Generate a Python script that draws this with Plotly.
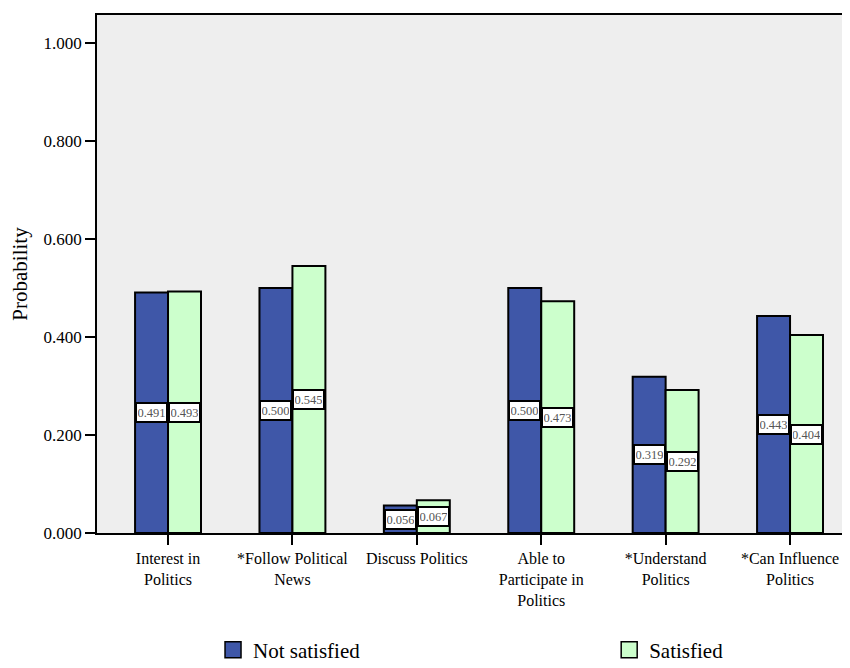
import plotly.graph_objects as go

categories = ["Interest in<br>Politics", "*Follow Political<br>News", "Discuss Politics",
              "Able to<br>Participate in<br>Politics", "*Understand<br>Politics",
              "*Can Influence<br>Politics"]
not_satisfied = [0.491, 0.500, 0.056, 0.500, 0.319, 0.443]
satisfied = [0.493, 0.545, 0.067, 0.473, 0.292, 0.404]
series_names = ["Not satisfied", "Satisfied"]
tick_vals = [0.0, 0.2, 0.4, 0.6, 0.8, 1.0]

BLUE = "#3F57A8"
GREEN = "#CCFFCC"
SERIF = "Liberation Serif"

fig = go.Figure()
for vals, name, color, leg in ((not_satisfied, series_names[0], BLUE, "legend"),
                               (satisfied, series_names[1], GREEN, "legend2")):
    fig.add_trace(go.Bar(x=categories, y=vals, name=name, showlegend=False,
                         marker=dict(color=color, line=dict(color="black", width=2))))
    # legend key (larger square than the default bar key)
    fig.add_trace(go.Scatter(x=[None], y=[None], mode="markers", name=name, legend=leg,
                             marker=dict(symbol="square", size=16, color=color,
                                         line=dict(color="black", width=1.5))))

for vals, shift in ((not_satisfied, -16.5), (satisfied, 16.5)):
    for c, v in zip(categories, vals):
        fig.add_annotation(x=c, y=v / 2, xref="x", yref="y", text=f"{v:.3f}",
                           showarrow=False, xshift=shift,
                           font=dict(family=SERIF, size=12.5, color="#555555"),
                           bgcolor="white", bordercolor="black", borderwidth=2,
                           borderpad=1, width=27, height=15)

legend_common = dict(orientation="h", xref="container", yref="container", xanchor="left",
                     yanchor="middle", y=0.027, bgcolor="rgba(0,0,0,0)",
                     font=dict(family=SERIF, size=21, color="black"))

fig.update_layout(
    width=842, height=660,
    margin=dict(l=89, r=0, t=7, b=135, autoexpand=False),
    paper_bgcolor="white", plot_bgcolor="#EEEEEE",
    barmode="group", bargap=0.47, bargroupgap=0,
    font=dict(family=SERIF, color="black"),
    showlegend=True,
    legend=dict(x=0.2435, **legend_common),
    legend2=dict(x=0.714, **legend_common),
)
fig.update_xaxes(range=[-0.571, 5.482], showline=True, linecolor="black", linewidth=1.5,
                 mirror=True, ticks="outside", ticklen=10, tickwidth=1.5, tickcolor="black",
                 tickfont=dict(family=SERIF, size=16, color="black"), showgrid=False,
                 tickangle=0, automargin=False)
fig.update_yaxes(range=[0, 1.057], tickvals=tick_vals, tickformat=".3f",
                 showline=True, linecolor="black", linewidth=1.5, mirror=False,
                 ticks="outside", ticklen=10, tickwidth=1.5, tickcolor="black",
                 tickfont=dict(family=SERIF, size=17, color="black"), showgrid=False,
                 zeroline=False, automargin=False,
                 title=dict(text="Probability", font=dict(family=SERIF, size=21, color="black"),
                            standoff=10))

fig.write_html("out.html")
